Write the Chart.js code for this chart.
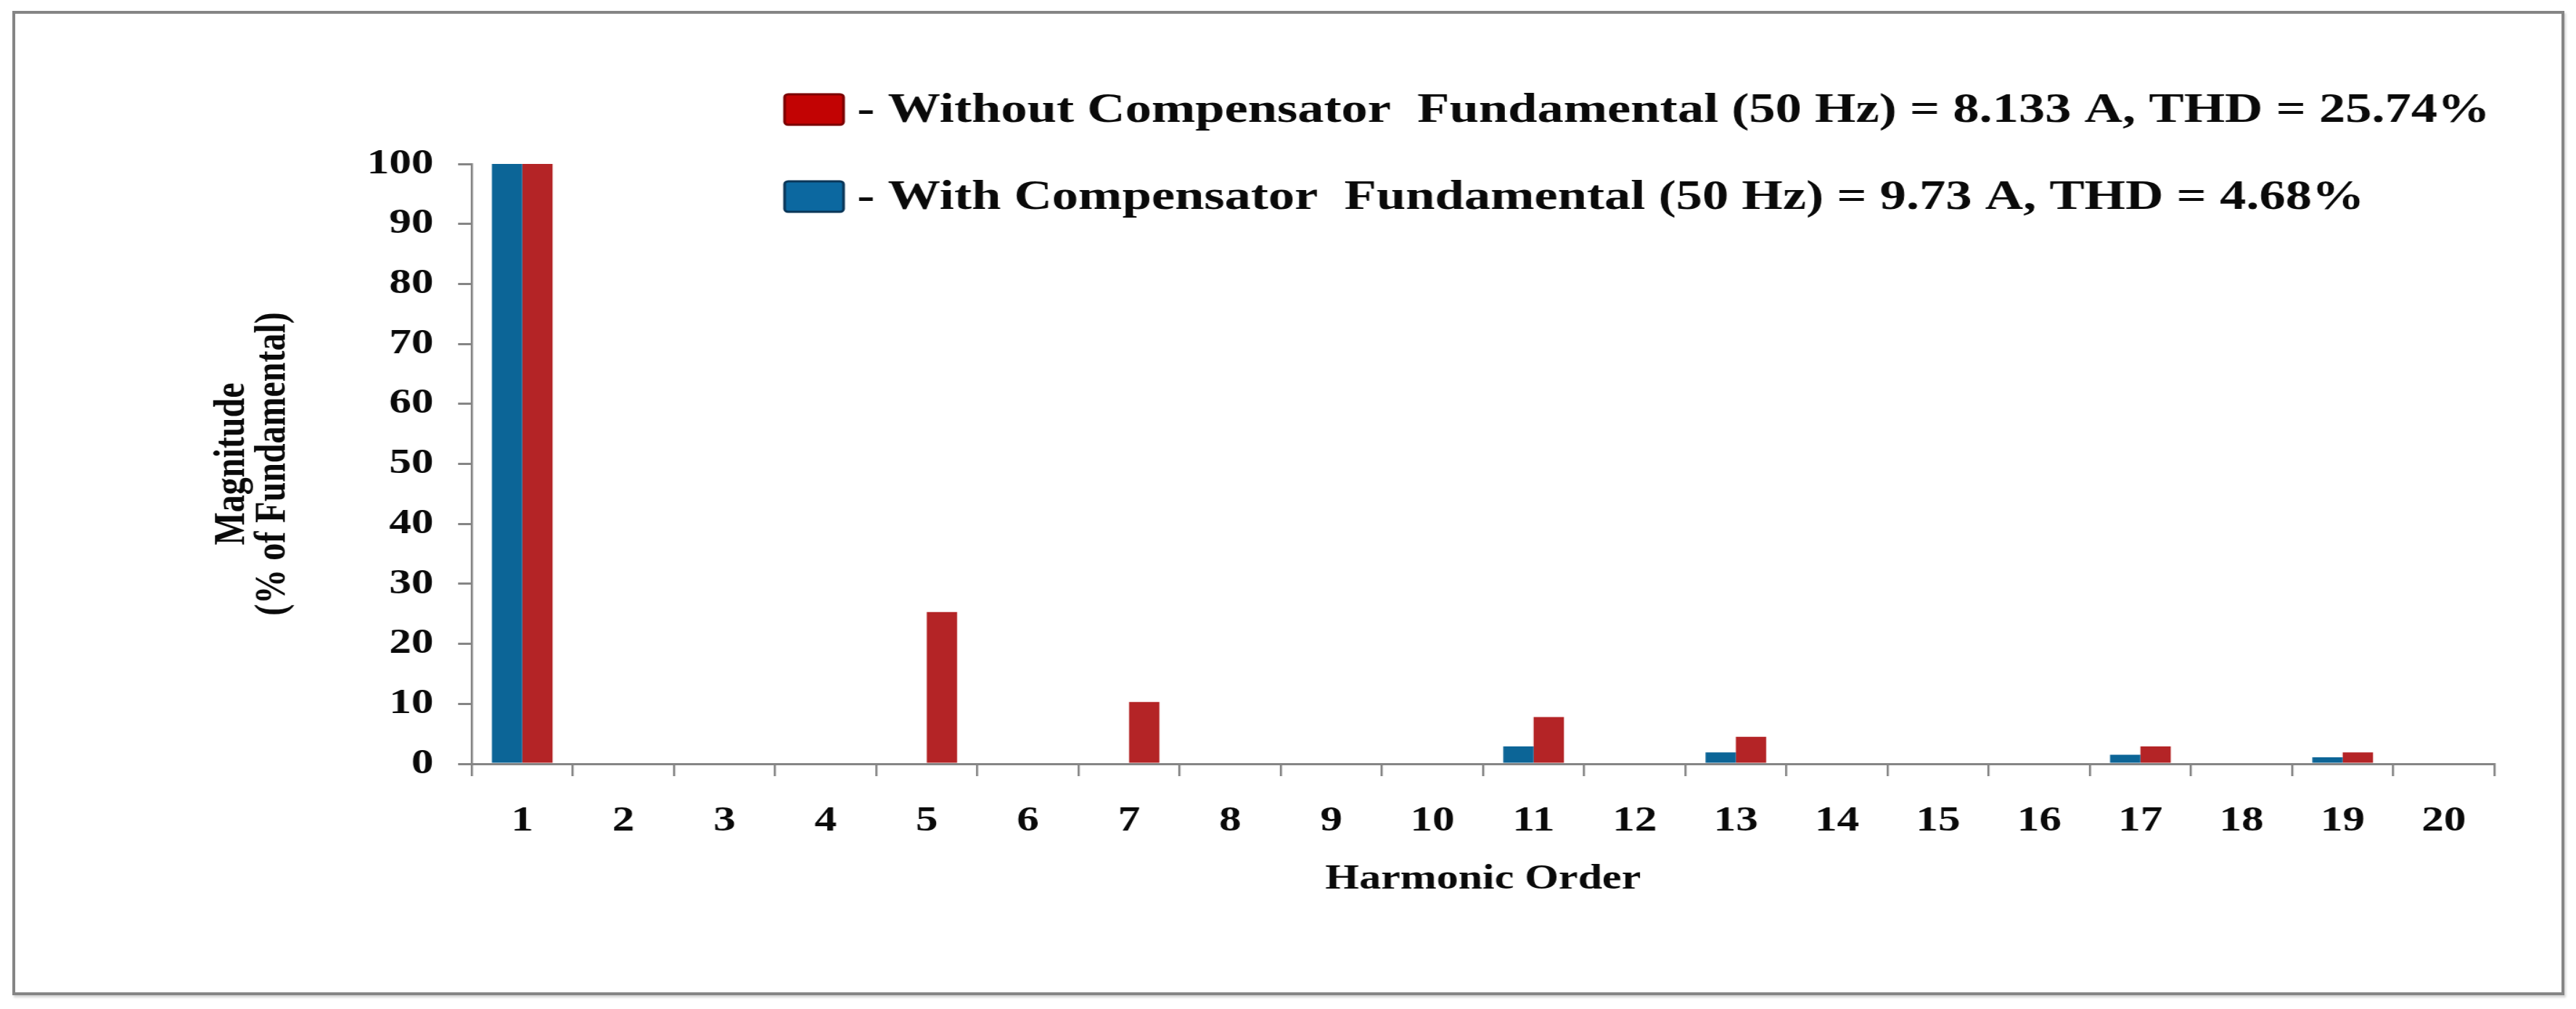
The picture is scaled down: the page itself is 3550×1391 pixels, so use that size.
<!DOCTYPE html>
<html>
<head>
<meta charset="utf-8">
<script src="https://cdn.jsdelivr.net/npm/chart.js@4.4.1/dist/chart.umd.min.js"></script>
<style>
  html, body { margin: 0; padding: 0; background: #fff; overflow: hidden; }
  #frame {
    position: absolute; left: 17px; top: 15px; width: 3517px; height: 1357px;
    border: 4px solid #858585; box-sizing: border-box; box-shadow: 2px 3px 3px #d4d4d4;
  }
  /* the source figure is stretched sideways, so the whole chart is drawn narrow and widened */
  #stretch { position: absolute; left: 0; top: 0; width: 2840px; height: 1391px; transform: scaleX(1.25); transform-origin: 0 0; }
</style>
</head>
<body>
<div id="frame"></div>
<div id="stretch"><canvas id="harmonicChart" width="2840" height="1391"></canvas></div>

<script>
/* ---------- data ---------- */
const harmonicOrders     = ['1','2','3','4','5','6','7','8','9','10','11','12','13','14','15','16','17','18','19','20'];
const withCompensator    = [100, 0, 0, 0, 0,    0, 0,    0, 0, 0, 2.9, 0, 1.9, 0, 0, 0, 1.5, 0, 1.1, 0];
const withoutCompensator = [100, 0, 0, 0, 25.3, 0, 10.3, 0, 0, 0, 7.8, 0, 4.5, 0, 0, 0, 2.9, 0, 1.9, 0];
const seriesNames  = ['With Compensator', 'Without Compensator'];
const seriesNotes  = ['Fundamental (50 Hz) = 9.73 A, THD = 4.68%', 'Fundamental (50 Hz) = 8.133 A, THD = 25.74%'];
const yTickValues  = [0, 10, 20, 30, 40, 50, 60, 70, 80, 90, 100];
const legendOrder  = [1, 0];   // red row first, blue row second

const BAR_COLORS    = ['#0c6597', '#b42426'];
const LEGEND_FILL   = ['#0c68a0', '#c20303'];
const LEGEND_EDGE   = ['#0a3658', '#7a0000'];
const SERIF = "'Liberation Serif', 'Times New Roman', serif";
const AXIS_GREY = '#858585';

Chart.defaults.font.family = SERIF;
Chart.defaults.color = '#0a0a0a';

// legend drawn as two rows inside the plot, like the figure
const legendRows = {
  id: 'legendRows',
  afterDraw(chart) {
    const ctx = chart.ctx;
    const rowY = [151, 271];
    ctx.save();
    legendOrder.forEach((ds, i) => {
      const y = rowY[i];
      ctx.fillStyle = LEGEND_FILL[ds];
      ctx.strokeStyle = LEGEND_EDGE[ds];
      ctx.lineWidth = 3;
      ctx.beginPath();
      ctx.roundRect(865, y - 21, 65, 42, 4);
      ctx.fill(); ctx.stroke();
      ctx.fillStyle = '#0a0a0a';
      ctx.font = `bold 58px ${SERIF}`;
      ctx.textBaseline = 'middle';
      ctx.fillText(`- ${seriesNames[ds]}  ${seriesNotes[ds]}`, 945, y + 2);
    });
    ctx.restore();
  },
};

new Chart(document.getElementById('harmonicChart'), {
  type: 'bar',
  data: {
    labels: harmonicOrders,
    datasets: [
      { label: seriesNames[0], data: withCompensator,    backgroundColor: BAR_COLORS[0] },
      { label: seriesNames[1], data: withoutCompensator, backgroundColor: BAR_COLORS[1] },
    ],
  },
  options: {
    responsive: false,
    animation: false,
    devicePixelRatio: 1,
    datasets: { bar: { categoryPercentage: 0.6, barPercentage: 1.0, borderWidth: 0 } },
    layout: { padding: { left: 0, top: 226, right: 90, bottom: 0 } },
    plugins: { legend: { display: false }, tooltip: { enabled: false } },
    scales: {
      x: {
        grid: { drawOnChartArea: false, drawTicks: true, tickLength: 17, color: AXIS_GREY, lineWidth: 2.4, offset: true },
        border: { display: true, color: AXIS_GREY, width: 3 },
        ticks: { font: { size: 49, weight: 'bold' }, padding: 33, maxRotation: 0, autoSkip: false },
        title: {
          display: true, text: 'Harmonic Order',
          font: { size: 48, weight: 'bold', lineHeight: 1.2 },
          padding: { top: 0, bottom: 150 },
        },
        afterFit: s => { s.height = 338; },
      },
      y: {
        min: 0, max: 100,
        afterBuildTicks: s => { s.ticks = yTickValues.map(v => ({ value: v })); },
        grid: { drawOnChartArea: false, drawTicks: true, tickLength: 15, color: AXIS_GREY, lineWidth: 3 },
        border: { display: true, color: AXIS_GREY, width: 2.4 },
        ticks: { font: { size: 49, weight: 'bold' }, padding: 27 },
        title: {
          display: true, text: ['Magnitude', '(% of Fundamental)'],
          font: { size: 48, weight: 'bold', lineHeight: 0.92 },
          padding: { top: 235, bottom: 0 },
        },
        afterFit: s => { s.width = 520; },
      },
    },
  },
  plugins: [legendRows],
});
</script>
</body>
</html>
